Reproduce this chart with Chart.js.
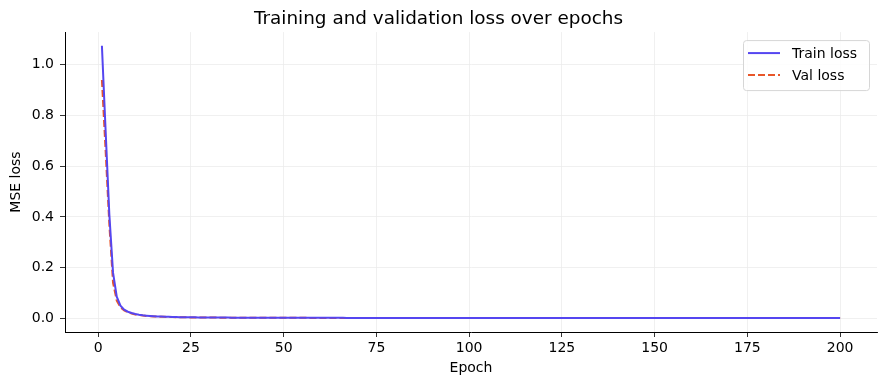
<!DOCTYPE html>
<html>
<head>
<meta charset="utf-8">
<script src="https://cdn.jsdelivr.net/npm/chart.js@4/dist/chart.umd.min.js"></script>
<style>
  html, body { margin: 0; padding: 0; background: #fff; }
  #wrap { width: 887px; height: 387px; }
</style>
</head>
<body>
<div id="wrap"><canvas id="lossChart" width="887" height="387"></canvas></div>
<script>
'use strict';
// epochs 1..200
const epochs = [];
for (let e = 1; e <= 200; e++) epochs.push(e);

const trainLoss = [
  1.075, 0.74, 0.41, 0.18, 0.085, 0.05, 0.034, 0.026, 0.021, 0.017, 0.014, 0.012, 0.0105, 0.0093, 0.0083, 0.0075, 0.0068, 0.0062, 0.0057, 0.0053,
  0.0049, 0.0046, 0.0043, 0.0041, 0.0039, 0.0037, 0.0035, 0.0034, 0.0033, 0.0032, 0.0031, 0.003, 0.0029, 0.0028, 0.0028, 0.0027, 0.0026, 0.0026, 0.0025, 0.0025,
  0.0024, 0.0024, 0.0023, 0.0023, 0.0023, 0.0022, 0.0022, 0.0022, 0.0021, 0.0021, 0.0021, 0.0021, 0.002, 0.002, 0.002, 0.002, 0.0019, 0.0019, 0.0019, 0.0019,
  0.0019, 0.0018, 0.0018, 0.0018, 0.0018, 0.0018, 0.0017, 0.0017, 0.0017, 0.0017, 0.0017, 0.0017, 0.0016, 0.0016, 0.0016, 0.0016, 0.0016, 0.0016, 0.0016, 0.0015,
  0.0015, 0.0015, 0.0015, 0.0015, 0.0015, 0.0015, 0.0014, 0.0014, 0.0014, 0.0014, 0.0014, 0.0014, 0.0014, 0.0014, 0.0013, 0.0013, 0.0013, 0.0013, 0.0013, 0.0013,
  0.0013, 0.0013, 0.0013, 0.0013, 0.0012, 0.0012, 0.0012, 0.0012, 0.0012, 0.0012, 0.0012, 0.0012, 0.0012, 0.0012, 0.0012, 0.0011, 0.0011, 0.0011, 0.0011, 0.0011,
  0.0011, 0.0011, 0.0012, 0.0011, 0.0011, 0.0011, 0.0011, 0.0011, 0.0011, 0.0011, 0.0011, 0.0011, 0.0011, 0.0011, 0.0011, 0.0011, 0.0011, 0.0011, 0.0011, 0.0011,
  0.0011, 0.0011, 0.001, 0.001, 0.0011, 0.001, 0.001, 0.001, 0.001, 0.001, 0.001, 0.001, 0.001, 0.001, 0.001, 0.001, 0.001, 0.001, 0.001, 0.001,
  0.001, 0.001, 0.001, 0.001, 0.001, 0.001, 0.001, 0.001, 0.001, 0.001, 0.001, 0.001, 0.001, 0.001, 0.0009, 0.001, 0.001, 0.0009, 0.0009, 0.0009,
  0.0009, 0.0009, 0.0009, 0.0009, 0.0009, 0.0009, 0.0009, 0.0009, 0.0009, 0.0009, 0.0009, 0.0009, 0.0009, 0.0009, 0.0009, 0.0009, 0.0009, 0.0009, 0.0009, 0.0009
];

const valLoss = [
  0.94, 0.66, 0.37, 0.14, 0.07, 0.043, 0.031, 0.024, 0.019, 0.015, 0.013, 0.011, 0.0095, 0.0085, 0.0076, 0.0069, 0.0063, 0.0058, 0.0053, 0.0049,
  0.0045, 0.0042, 0.004, 0.0038, 0.0036, 0.0034, 0.0033, 0.0031, 0.003, 0.0029, 0.0028, 0.0027, 0.0027, 0.0026, 0.0025, 0.0025, 0.0024, 0.0024, 0.0023, 0.0023,
  0.0022, 0.0022, 0.0021, 0.0021, 0.0021, 0.002, 0.002, 0.002, 0.0019, 0.0019, 0.0019, 0.0019, 0.0018, 0.0018, 0.0018, 0.0018, 0.0017, 0.0017, 0.0017, 0.0017,
  0.0017, 0.0016, 0.0016, 0.0016, 0.0016, 0.0016, 0.0015, 0.0015, 0.0015, 0.0015, 0.0015, 0.0015, 0.0014, 0.0014, 0.0014, 0.0014, 0.0014, 0.0014, 0.0014, 0.0013,
  0.0013, 0.0013, 0.0013, 0.0013, 0.0013, 0.0013, 0.0013, 0.0012, 0.0012, 0.0012, 0.0012, 0.0012, 0.0012, 0.0012, 0.0012, 0.0012, 0.0011, 0.0011, 0.0011, 0.0011,
  0.0011, 0.0011, 0.0011, 0.0011, 0.0011, 0.0011, 0.001, 0.001, 0.001, 0.001, 0.001, 0.001, 0.001, 0.001, 0.001, 0.001, 0.001, 0.001, 0.001, 0.001,
  0.001, 0.001, 0.001, 0.0009, 0.0009, 0.0009, 0.0009, 0.0009, 0.0009, 0.0009, 0.0009, 0.0009, 0.0009, 0.0009, 0.0009, 0.0009, 0.0009, 0.0009, 0.0009, 0.0009,
  0.0009, 0.0009, 0.0009, 0.0009, 0.0009, 0.0008, 0.0008, 0.0008, 0.0008, 0.0008, 0.0008, 0.0008, 0.0008, 0.0008, 0.0008, 0.0008, 0.0008, 0.0008, 0.0008, 0.0008,
  0.0008, 0.0008, 0.0008, 0.0008, 0.0008, 0.0008, 0.0008, 0.0008, 0.0008, 0.0008, 0.0008, 0.0008, 0.0008, 0.0008, 0.0008, 0.0008, 0.0008, 0.0008, 0.0008, 0.0008,
  0.0008, 0.0008, 0.0008, 0.0008, 0.0008, 0.0008, 0.0008, 0.0008, 0.0008, 0.0008, 0.0008, 0.0008, 0.0008, 0.0008, 0.0008, 0.0008, 0.0008, 0.0008, 0.0008, 0.0008
];

const xTicks = [0, 25, 50, 75, 100, 125, 150, 175, 200];
const yTicks = [0.0, 0.2, 0.4, 0.6, 0.8, 1.0];

const FONT = 'DejaVu Sans';
const TRAIN_COLOR = '#5546f0';
const VAL_COLOR = '#e8562a';

// legend drawn inside the plot, top right, like matplotlib
const insideLegend = {
    id: 'insideLegend',
    afterDraw(chart) {
        const ctx = chart.ctx;
        const area = chart.chartArea;
        const w = 126, h = 50;
        const x0 = area.right - 8 - w;
        const y0 = area.top + 8;
        ctx.save();
        ctx.fillStyle = 'rgba(255,255,255,0.85)';
        ctx.strokeStyle = '#d6d6d6';
        ctx.lineWidth = 1;
        ctx.beginPath();
        ctx.roundRect(x0 + 0.5, y0 + 0.5, w, h, 3);
        ctx.fill();
        ctx.stroke();
        chart.data.datasets.forEach((ds, i) => {
            const y = y0 + 13 + i * 22;
            ctx.strokeStyle = ds.borderColor;
            ctx.lineWidth = ds.borderWidth;
            ctx.setLineDash(ds.borderDash || []);
            ctx.beginPath();
            ctx.moveTo(x0 + 5, y);
            ctx.lineTo(x0 + 37, y);
            ctx.stroke();
            ctx.setLineDash([]);
            ctx.fillStyle = '#000';
            ctx.font = '14px "' + FONT + '"';
            ctx.textBaseline = 'middle';
            ctx.fillText(ds.label, x0 + 49, y + 1);
        });
        ctx.restore();
    }
};

function graphInit() {
    const ctx = document.getElementById('lossChart').getContext('2d');
    new Chart(ctx, {
        type: 'line',
        data: {
            datasets: [{
                label: 'Train loss',
                data: epochs.map((e, i) => ({ x: e, y: trainLoss[i] })),
                borderColor: TRAIN_COLOR,
                borderWidth: 2,
                pointRadius: 0,
                fill: false
            }, {
                label: 'Val loss',
                data: epochs.map((e, i) => ({ x: e, y: valLoss[i] })),
                borderColor: VAL_COLOR,
                borderWidth: 2,
                borderDash: [7, 3],
                pointRadius: 0,
                fill: false
            }]
        },
        options: {
            responsive: false,
            animation: false,
            layout: { padding: { left: 0, right: 10, top: 0, bottom: 0 } },
            plugins: {
                legend: { display: false },
                tooltip: { enabled: false },
                title: {
                    display: true,
                    text: 'Training and validation loss over epochs',
                    color: '#000',
                    font: { family: FONT, size: 18.4, weight: 'normal' },
                    padding: { top: 8, bottom: 2 }
                }
            },
            scales: {
                x: {
                    type: 'linear',
                    min: -8.95,
                    max: 209.95,
                    afterBuildTicks(scale) { scale.ticks = xTicks.map(v => ({ value: v })); },
                    afterFit(scale) { scale.height = 55; },
                    grid: { color: '#ececec', tickColor: '#000', tickLength: 5, lineWidth: 0.8 },
                    border: { color: '#000', width: 1 },
                    ticks: { color: '#000', font: { family: FONT, size: 14 }, padding: 3, maxRotation: 0 },
                    title: { display: true, text: 'Epoch', color: '#000', font: { family: FONT, size: 14 }, padding: { top: 0, bottom: 10 } }
                },
                y: {
                    type: 'linear',
                    min: -0.054,
                    max: 1.129,
                    afterBuildTicks(scale) { scale.ticks = yTicks.map(v => ({ value: v })); },
                    afterFit(scale) { scale.width = 65; },
                    grid: { color: '#ececec', tickColor: '#000', tickLength: 5, lineWidth: 0.8 },
                    border: { color: '#000', width: 1 },
                    ticks: { color: '#000', font: { family: FONT, size: 14 }, padding: 6, callback: v => v.toFixed(1) },
                    title: { display: true, text: 'MSE loss', color: '#000', font: { family: FONT, size: 14 }, padding: { top: 8, bottom: 0 } }
                }
            }
        },
        plugins: [insideLegend]
    });
}

graphInit();
</script>
</body>
</html>
